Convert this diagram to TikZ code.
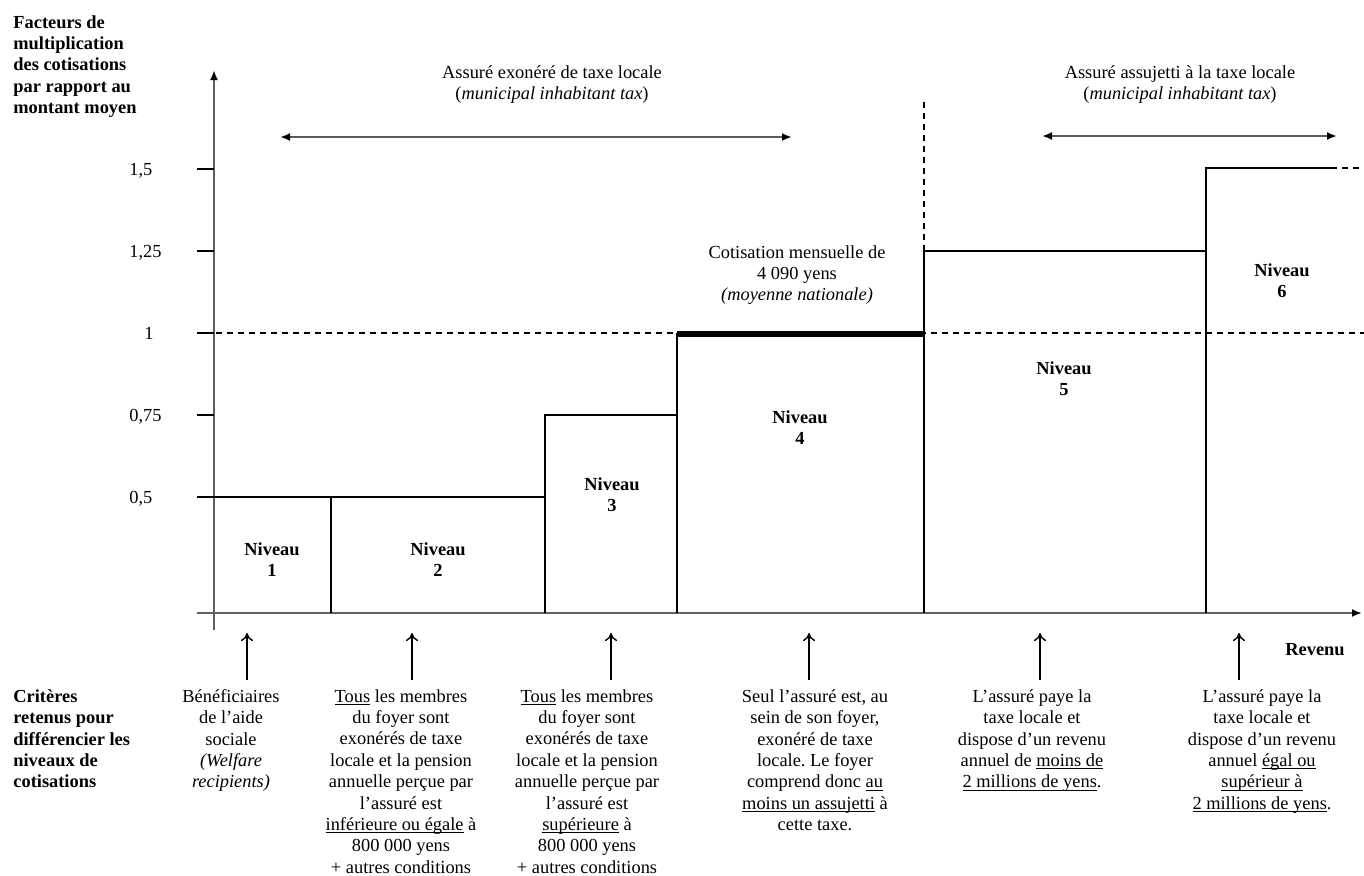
\documentclass[tikz,border=0pt]{standalone}
\usepackage{fontspec}
\setmainfont{Liberation Serif}
\usetikzlibrary{arrows.meta}
\frenchspacing
\newcommand{\txtsize}{\fontsize{9.2pt}{10.7pt}\selectfont}
\newcommand{\ulin}[1]{\setbox0\hbox{#1}\rlap{\rule[-1.4pt]{\wd0}{0.5pt}}\box0\relax}

\begin{document}
\begin{tikzpicture}[x=0.5pt,y=-0.5pt,
  axis/.style={gray!75!black,line width=1.4pt,-{Latex[length=5pt,width=4pt,color=black]}},
  stepline/.style={black,line width=0.9pt},
  avgline/.style={black,line width=0.7pt,dash pattern=on 3pt off 2.5pt},
  taxspan/.style={gray!70!black,line width=1.3pt,{Latex[length=5pt,width=4pt,color=black]}-{Latex[length=5pt,width=4pt,color=black]}},
  crit/.style={align=center,anchor=north},
  lvl/.style={align=center,anchor=north,font=\txtsize\bfseries},
  critarrow/.style={black,line width=0.7pt,-{To[length=4pt,width=6pt]}}]
\tikzstyle{every node}+=[inner sep=0pt,font=\txtsize]
\useasboundingbox (0,0) rectangle (1364,875);
\draw[axis] (197,613) -- (1362,613);
\draw[axis] (214,630) -- (214,70);
\foreach \y/\v in {169/{1,5},251/{1,25},415/{0,75},497/{0,5}} {
  \draw[stepline] (197,\y) -- (214,\y);
  \node[anchor=base west] (tick\y) at (129,\y+6) {\v};
}
\draw[stepline] (197,333) -- (214,333);
\node[anchor=base] (tick333) at (149,339) {1};
\draw[avgline] (216,333) -- (1364,333);
\draw[avgline] (924,102) -- (924,251);
\draw[stepline] (197,497) -- (545,497);
\draw[stepline] (331,497) -- (331,613);
\draw[stepline] (545,613) -- (545,415) -- (677,415);
\draw[stepline] (677,613) -- (677,333);
\draw[black,line width=3pt] (677,334) -- (924,334);
\draw[stepline] (924,613) -- (924,251) -- (1206,251);
\draw[stepline] (1206,613) -- (1206,168) -- (1331,168);
\draw[avgline] (1331,168) -- (1364,168);
\coordinate (ex1) at (280,137);
\coordinate (ex2) at (792,137);
\draw[taxspan] (ex1) -- (ex2);
\coordinate (as1) at (1042,136);
\coordinate (as2) at (1337,136);
\draw[taxspan] (as1) -- (as2);
\node[crit] (exo) at (552,65) {Assuré exonéré de taxe locale\\(\textit{municipal inhabitant tax})};
\node[crit] (assu) at (1180,65) {Assuré assujetti à la taxe locale\\(\textit{municipal inhabitant tax})};
\node[crit] (moy) at (797,245) {Cotisation mensuelle de\\4 090 yens\\\textit{(moyenne nationale)}};
\foreach \i/\x/\y in {1/272/542,2/438/542,3/612/477,4/800/410,5/1064/361,6/1282/263}
  \node[lvl] (niv\i) at (\x,\y) {Niveau\\\i};
\foreach \i/\x in {1/247,2/412,3/611,4/809,5/1040,6/1239} {
  \coordinate (a\i) at (\x,680);
  \draw[critarrow] (a\i) -- ++(0,-47);
}
\node[crit] (c1) at (231,689) {Bénéficiaires\\de l’aide\\sociale\\\textit{(Welfare}\\\textit{recipients)}};
\node[crit] (c2) at (401,689) {\ulin{Tous} les membres\\du foyer sont\\exonérés de taxe\\locale et la pension\\annuelle perçue par\\l’assuré est\\\ulin{inférieure ou égale} à\\800 000 yens\\+ autres conditions};
\node[crit] (c3) at (587,689) {\ulin{Tous} les membres\\du foyer sont\\exonérés de taxe\\locale et la pension\\annuelle perçue par\\l’assuré est\\\ulin{supérieure} à\\800 000 yens\\+ autres conditions};
\node[crit] (c4) at (815,689) {Seul l’assuré est, au\\sein de son foyer,\\exonéré de taxe\\locale. Le foyer\\comprend donc \ulin{au}\\\ulin{moins un assujetti} à\\cette taxe.};
\node[crit] (c5) at (1032,689) {L’assuré paye la\\taxe locale et\\dispose d’un revenu\\annuel de \ulin{moins de}\\\ulin{2 millions de yens}.};
\node[crit] (c6) at (1262,689) {L’assuré paye la\\taxe locale et\\dispose d’un revenu\\annuel \ulin{égal ou}\\\ulin{supérieur à}\\\ulin{2 millions de yens}.};
\node[anchor=north west,align=left,font=\txtsize\bfseries] (critlbl) at (13,689) {Critères\\retenus pour\\différencier les\\niveaux de\\cotisations};
\node[anchor=north west,align=left,font=\txtsize\bfseries] (factlbl) at (13,15) {Facteurs de\\multiplication\\des cotisations\\par rapport au\\montant moyen};
\node[anchor=base west,font=\txtsize\bfseries] (rev) at (1285,655) {Revenu};
\end{tikzpicture}
\end{document}
